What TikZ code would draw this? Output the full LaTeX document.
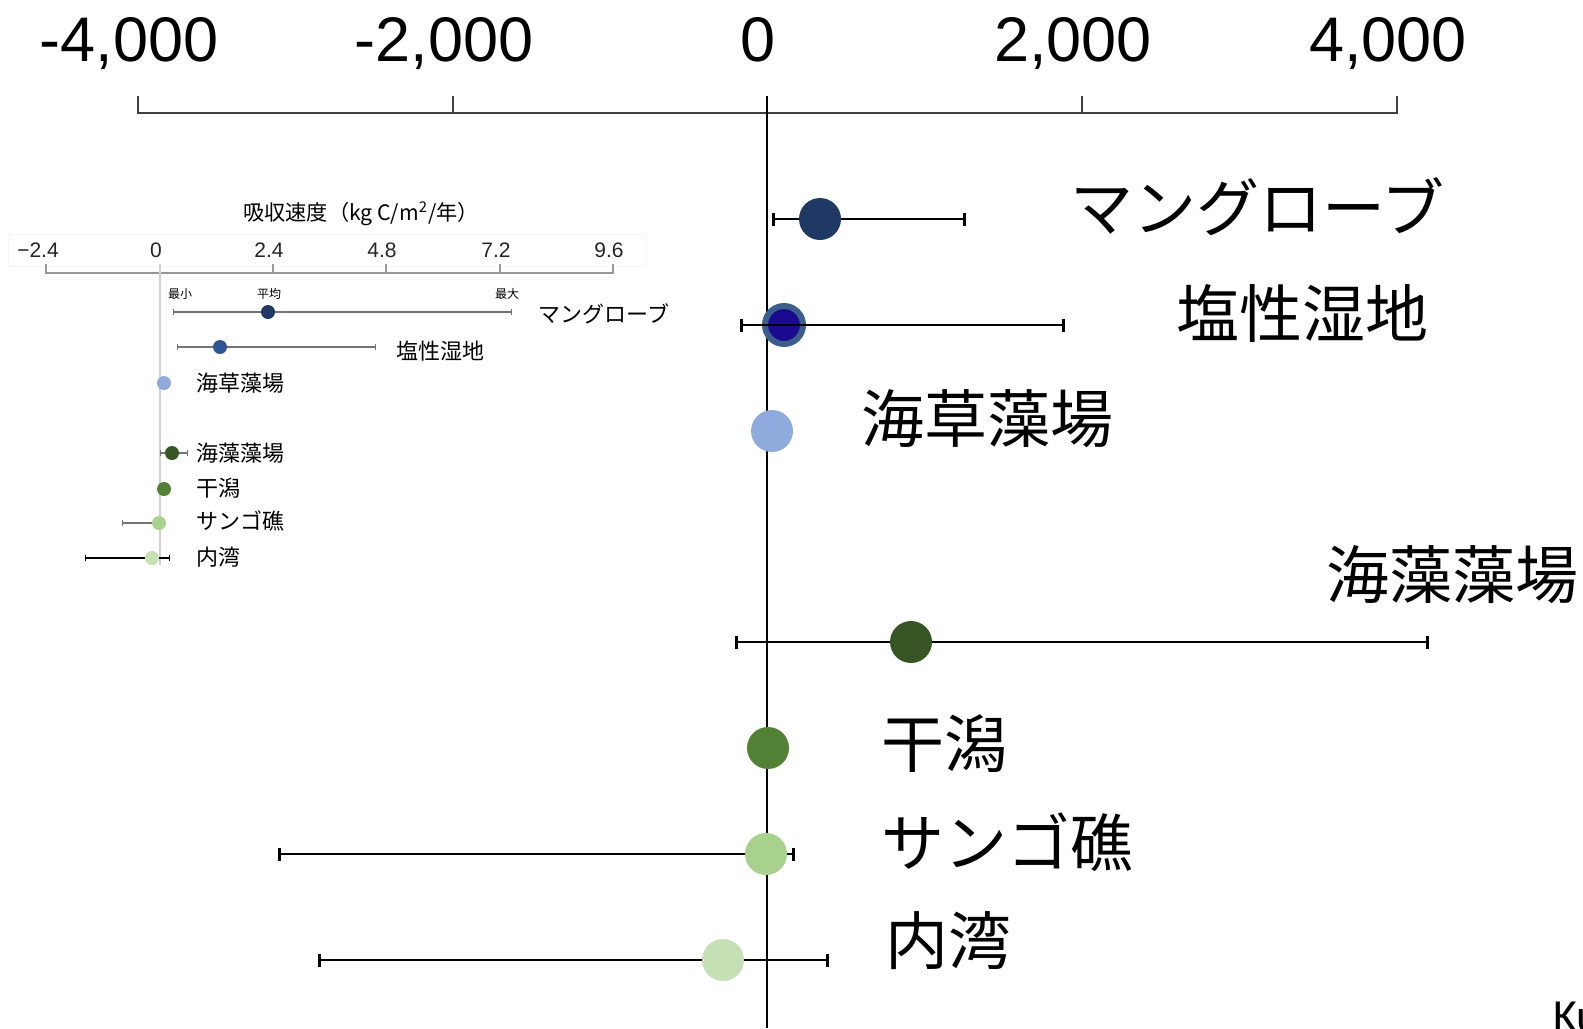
\documentclass[tikz,border=0pt]{standalone}
\usepackage{fontspec}
\setmainfont{Liberation Sans}
\newfontfamily\jp{Noto Sans CJK JP}
\newfontfamily\kufont{Carlito}
\usepackage{tikz}
\usetikzlibrary{arrows.meta}

\definecolor{mangrove}{HTML}{203864}
\definecolor{marshring}{HTML}{3B5E8C}
\definecolor{marsh}{HTML}{1B0A8F}
\definecolor{marshsmall}{HTML}{2F5597}
\definecolor{seagrass}{HTML}{8FAADC}
\definecolor{seaweed}{HTML}{375623}
\definecolor{tidal}{HTML}{538135}
\definecolor{coral}{HTML}{A9D18E}
\definecolor{bay}{HTML}{C5E0B4}

\tikzset{
	dot/.style={circle, inner sep=0pt, minimum size=21pt},
	smalldot/.style={circle, inner sep=0pt, minimum size=7pt},
	errbar/.style={line width=1.35pt, {Bar[width=6.5pt]}-{Bar[width=6.5pt]}},
	smallbar/.style={line width=0.55pt, black!55, {Bar[width=3pt]}-{Bar[width=3pt]}},
	biglabel/.style={font=\jp\fontsize{31.5}{36}\selectfont, anchor=west, inner sep=0pt},
	smalllabel/.style={font=\jp\fontsize{11}{13}\selectfont, anchor=west, inner sep=0pt},
	ticklabel/.style={font=\fontsize{31.5}{36}\selectfont, anchor=base, inner sep=0pt},
	smalltick/.style={font=\fontsize{10.5}{12}\selectfont, anchor=base, inner sep=0pt, black!85},
	tinylabel/.style={font=\jp\fontsize{6}{7}\selectfont, inner sep=0pt},
}

\begin{document}
\begin{tikzpicture}[x=0.5pt, y=-0.5pt]
	\useasboundingbox (0,0) rectangle (1583,1028);
	\clip (0,0) rectangle (1583,1028);

	% main axis
	\begin{scope}[black!75, line width=0.75pt]
		\draw (138,96) -- (138,113) -- (1397,113) -- (1397,96);
		\draw (453,96) -- (453,113);
		\draw (1082,96) -- (1082,113);
	\end{scope}
	\draw[line width=0.8pt] (767,96) -- (767,1028);

	\begin{scope}[every node/.style={ticklabel}]
		\node (tmfour) at (129,61) {-4,000};
		\node (tmtwo) at (444,61) {-2,000};
		\node (tzero) at (758,61) {0};
		\node (ttwo) at (1073,61) {2,000};
		\node (tfour) at (1388,61) {4,000};
	\end{scope}

	% inset chart
	\draw[black!4] (8,234) rectangle (646,266);
	\node[font=\jp\fontsize{10.6}{12}\selectfont, inner sep=0pt] (title) at (361,214) {吸収速度（kg C/m\textsuperscript{2}/年）};

	\begin{scope}[every node/.style={smalltick}]
		\node (smtwo) at (38,257) {−2.4};
		\node (szero) at (156,257) {0};
		\node (stwo) at (269,257) {2.4};
		\node (sfour) at (382,257) {4.8};
		\node (sseven) at (496,257) {7.2};
		\node (snine) at (609,257) {9.6};
	\end{scope}

	\begin{scope}[black!40, line width=0.6pt]
		\draw (46,264) -- (46,273) -- (613,273) -- (613,264);
		\draw (273,264) -- (273,273);
		\draw (386,264) -- (386,273);
		\draw (500,264) -- (500,273);
	\end{scope}
	\draw[black!18, line width=0.8pt] (160,264) -- (160,565);

	\node[tinylabel] (min) at (180,294) {最小};
	\node[tinylabel] (mean) at (269,294) {平均};
	\node[tinylabel] (max) at (507,294) {最大};

	\coordinate (ima) at (173,312);
	\coordinate (imb) at (512,312);
	\draw[smallbar] (ima) -- (imb);
	\node[smalldot, fill=mangrove] (imdot) at (268,312) {};
	\node[smalllabel] (imlab) at (538,314) {マングローブ};

	\coordinate (isa) at (177,347);
	\coordinate (isb) at (376,347);
	\draw[smallbar] (isa) -- (isb);
	\node[smalldot, fill=marshsmall] (isdot) at (220,347) {};
	\node[smalllabel] (islab) at (396,351) {塩性湿地};

	\node[smalldot, fill=seagrass] (igdot) at (164,383) {};
	\node[smalllabel] (iglab) at (196,383) {海草藻場};

	\coordinate (iwa) at (160,453);
	\coordinate (iwb) at (188,453);
	\draw[smallbar] (iwa) -- (iwb);
	\node[smalldot, fill=seaweed] (iwdot) at (172,453) {};
	\node[smalllabel] (iwlab) at (196,453) {海藻藻場};

	\node[smalldot, fill=tidal] (itdot) at (164,489) {};
	\node[smalllabel] (itlab) at (196,488) {干潟};

	\coordinate (ica) at (122,523);
	\coordinate (icb) at (162,523);
	\draw[smallbar] (ica) -- (icb);
	\node[smalldot, fill=coral] (icdot) at (159,523) {};
	\node[smalllabel] (iclab) at (196,521) {サンゴ礁};

	\coordinate (iba) at (85,558);
	\coordinate (ibb) at (170,558);
	\draw[smallbar, black] (iba) -- (ibb);
	\node[smalldot, fill=bay] (ibdot) at (152,558) {};
	\node[smalllabel] (iblab) at (196,557) {内湾};

	% main rows
	\coordinate (ma) at (772,219);
	\coordinate (mb) at (966,219);
	\draw[errbar] (ma) -- (mb);
	\node[dot, fill=mangrove] (mdot) at (820,219) {};
	\node[biglabel] (mlab) at (1070,207) {マングローブ};

	\coordinate (sa) at (740,325);
	\coordinate (sb) at (1065,325);
	\node[dot, fill=marsh, draw=marshring, line width=3pt, minimum size=19pt] (sdot) at (784,325) {};
	\draw[errbar] (sa) -- (sb);
	\node[biglabel] (slab) at (1176,313) {塩性湿地};

	\node[dot, fill=seagrass] (gdot) at (772,431) {};
	\node[biglabel] (glab) at (861,419) {海草藻場};

	\coordinate (wa) at (735,642);
	\coordinate (wb) at (1429,642);
	\draw[errbar] (wa) -- (wb);
	\node[dot, fill=seaweed] (wdot) at (911,642) {};
	\node[biglabel] (wlab) at (1326,575) {海藻藻場};

	\node[dot, fill=tidal] (tdot) at (768,748) {};
	\node[biglabel] (tlab) at (881,744) {干潟};

	\coordinate (ca) at (278,854);
	\coordinate (cb) at (795,854);
	\draw[errbar] (ca) -- (cb);
	\node[dot, fill=coral] (cdot) at (766,854) {};
	\node[biglabel] (clab) at (881,842) {サンゴ礁};

	\coordinate (ba) at (318,960);
	\coordinate (bb) at (829,960);
	\draw[errbar] (ba) -- (bb);
	\node[dot, fill=bay] (bdot) at (723,960) {};
	\node[biglabel] (blab) at (885,941) {内湾};

	\node[font=\kufont\fontsize{23}{26}\selectfont, anchor=base west, inner sep=0pt] (ku) at (1553,1031) {Ku};
\end{tikzpicture}
\end{document}
